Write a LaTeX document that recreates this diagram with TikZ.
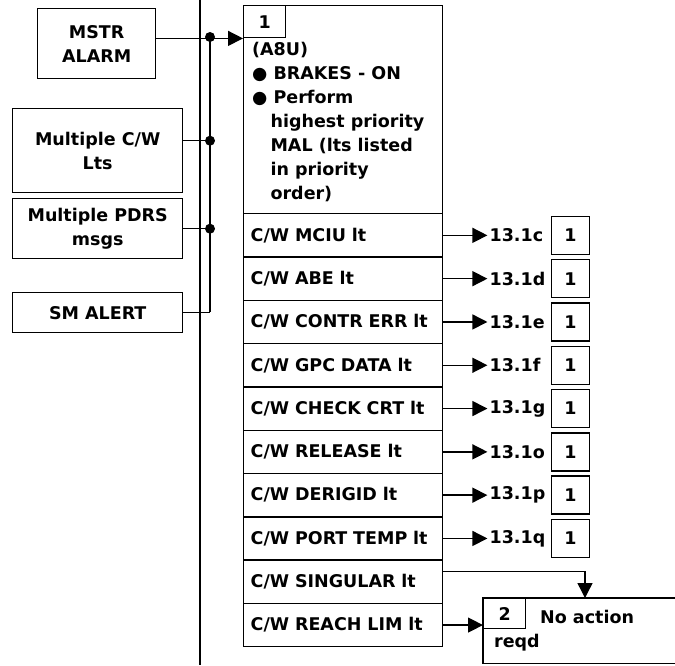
\documentclass[tikz,border=0pt]{standalone}
\usepackage{fontspec}
\setmainfont{DejaVu Sans}
\usetikzlibrary{arrows.meta, positioning, calc}

\tikzset{
  box/.style={draw, line width=1.4pt, inner sep=0pt, align=center},
  numbox/.style={box, minimum width=38pt, minimum height=38pt},
  rowbox/.style={draw, line width=1.4pt, anchor=north west, minimum height=43.3pt,
    text width=185pt, inner xsep=7pt, inner ysep=0pt, align=left},
  arr/.style={line width=1.4pt, -{Triangle[length=15pt, width=15pt]}},
  dot/.style={circle, fill, inner sep=0pt, minimum size=10pt},
}

\begin{document}
\begin{tikzpicture}[x=1pt, y=-1pt, font=\bfseries\fontsize{17.5}{24}\selectfont]
    % Fix the page to the size of the sheet
    \useasboundingbox (0,0) rectangle (675,665);

    % Define the row height and the left edge of the checklist
    \def\rowh{43.3}
    \def\colx{243}

    % Draw the input boxes on the left
    \node[box, anchor=north west, minimum width=118pt, minimum height=70pt] (mstr) at (37,8) {MSTR\\ALARM};
    \node[box, anchor=north west, minimum width=170pt, minimum height=84pt] (mcw) at (12,108) {Multiple C/W\\Lts};
    \node[box, anchor=north west, minimum width=170pt, minimum height=60pt] (mpdrs) at (12,198) {Multiple PDRS\\msgs};
    \node[box, anchor=north west, minimum width=170pt, minimum height=40pt] (smalert) at (12,292) {SM ALERT};

    % Draw the dividing line
    \draw[line width=1.4pt] (200,0) -- (200,665);

    % Draw the top block of the checklist
    \node[draw, line width=1.4pt, anchor=north west, minimum width=199pt, minimum height=208pt] (step1) at (\colx,5) {};
    \node[draw, line width=1.4pt, anchor=north west, minimum width=42pt, minimum height=32pt] (num1) at (step1.north west) {1};
    \node[anchor=north west, align=left, inner sep=0pt] (step1txt) at (252,42) {%
      (A8U)\\
      ● BRAKES - ON\\
      ● Perform\\
      \hspace*{1.05em}highest priority\\
      \hspace*{1.05em}MAL (lts listed\\
      \hspace*{1.05em}in priority\\
      \hspace*{1.05em}order)};

    % Draw the bus and its junctions
    \coordinate (bustop) at (210,37);
    \coordinate (busbot) at (210,312);
    \draw[line width=1.4pt] (bustop) -- (busbot);
    \draw[arr] (mstr.east |- num1.south) -- (num1.south west);
    \draw[line width=1.4pt] ($(mcw.east)+(0,-10)$) -- ($(mcw.east -| bustop)+(0,-10)$);
    \draw[line width=1.4pt] (mpdrs.east) -- (mpdrs.east -| bustop);
    \draw[line width=1.4pt] (smalert.east) -- (smalert.east -| busbot);
    \node[dot] (j1) at (bustop) {};
    \node[dot] (j2) at ($(mcw.east -| bustop)+(0,-10)$) {};
    \node[dot] (j3) at (mpdrs.east -| bustop) {};

    % Draw the rows of the checklist
    \foreach \lbl [count=\i] in {C/W MCIU lt, C/W ABE lt, C/W CONTR ERR lt, C/W GPC DATA lt,
        C/W CHECK CRT lt, C/W RELEASE lt, C/W DERIGID lt, C/W PORT TEMP lt,
        C/W SINGULAR lt, C/W REACH LIM lt} {
      \node[rowbox] (r\i) at (\colx, {213+(\i-1)*\rowh}) {\lbl};
    }

    % Draw the references with their step boxes
    \foreach \sfx [count=\i] in {c,d,e,f,g,o,p,q} {
      \node[anchor=west, inner sep=2pt] (ref\i) at ($(r\i.east)+(44,0)$) {13.1\sfx};
      \node[numbox] (one\i) at ($(r\i.east)+(127,0)$) {1};
      \draw[arr] (r\i.east) -- (ref\i.west);
    }

    % Draw the final block, open to the right
    \node[anchor=north west, minimum width=192pt, minimum height=65pt, inner sep=0pt] (done) at (483,598) {};
    \draw[line width=1.4pt] (done.north east) -- (done.north west) -- (done.south west) -- (done.south east);
    \node[draw, line width=1.4pt, anchor=north west, minimum width=42pt, minimum height=30pt] (num2) at (done.north west) {2};
    \node[anchor=west, inner sep=0pt] (noact) at (540,617) {No action};
    \node[anchor=west, inner sep=0pt] (reqd) at (494,643) {reqd};
    \coordinate (drop) at (585,598);

    % Draw the arrows into the final block
    \draw[arr] ($(r9.east)+(0,-10)$) -| (drop);
    \draw[arr] (r10.east) -- (r10.east -| done.west);
\end{tikzpicture}
\end{document}
